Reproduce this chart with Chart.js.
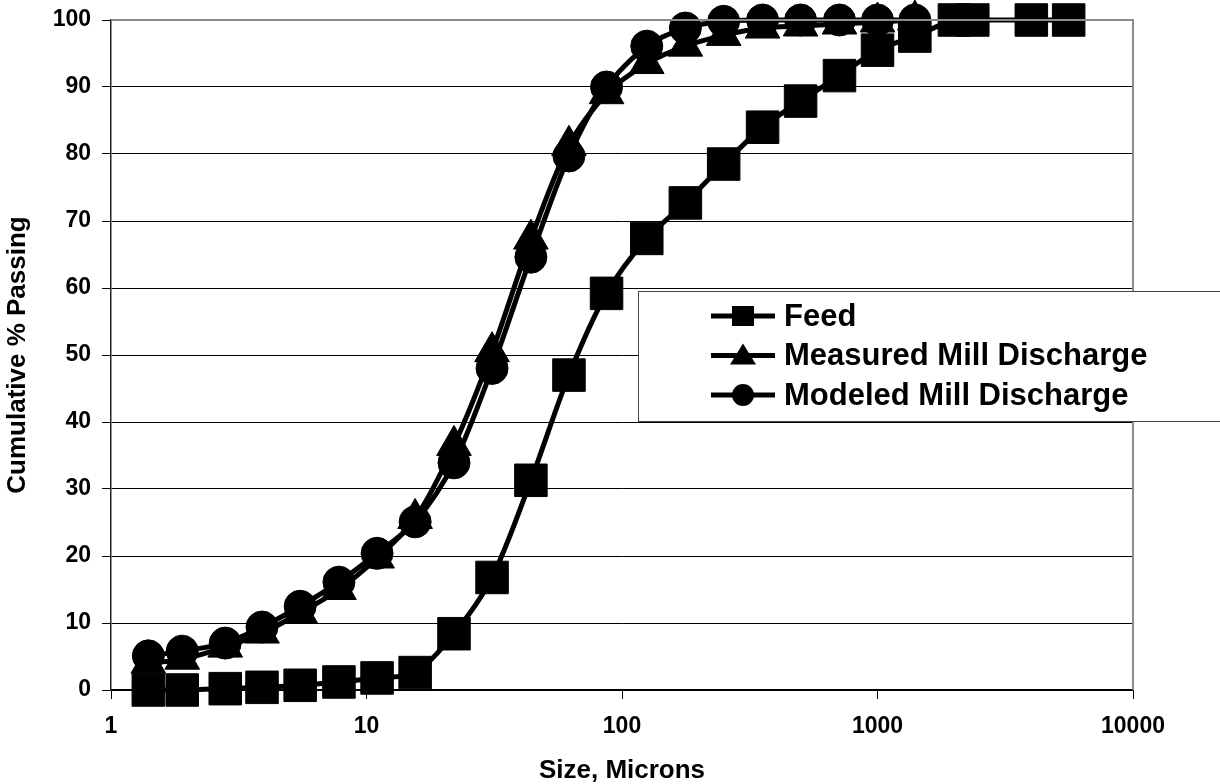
<!DOCTYPE html>
<html>
<head>
<meta charset="utf-8">
<title>Cumulative % Passing</title>
<script src="https://cdn.jsdelivr.net/npm/chart.js@4.4.1/dist/chart.umd.min.js"></script>
<style>
    html, body { margin: 0; padding: 0; background: #fff; }
    #wrap { width: 1220px; height: 784px; }
</style>
</head>
<body>
<div id="wrap"><canvas id="canvasPassing" width="1220" height="784"></canvas></div>
<script>
// sizes in microns (shared by both discharge series, feed goes further)
var sizes = [1.4, 1.9, 2.8, 3.9, 5.5, 7.8, 11, 15.5, 22, 31, 44, 62, 87, 125, 177, 250, 355, 500, 710, 1000, 1400];
var feedSizes = sizes.concat([2000, 2360, 4000, 5600]);

var feed = [0, 0, 0.2, 0.4, 0.7, 1.2, 1.8, 2.6, 8.4, 16.8, 31.3, 47, 59.2, 67.4, 72.7, 78.5, 84, 87.9, 91.7, 95.5, 97.6, 100, 100, 100, 100];
var measured = [4.0, 4.6, 6.4, 8.5, 11.5, 15.0, 19.7, 25.6, 36.5, 50.5, 67.3, 81.3, 89, 93.5, 96.1, 97.7, 98.8, 99.1, 99.4, 99.7, 100];
var modeled = [5.1, 5.8, 7.0, 9.4, 12.5, 16.1, 20.4, 25.1, 33.9, 48.0, 64.6, 79.7, 90.0, 96.1, 98.8, 99.8, 100, 100, 100, 100, 100];

var seriesNames = ['Feed', 'Measured Mill Discharge', 'Modeled Mill Discharge'];
var xTicks = [1, 10, 100, 1000, 10000];

var fontFamily = '"Liberation Sans", Arial, Helvetica, sans-serif';

function toPoints(xs, ys) {
    let pts = [];
    for (let i = 0; i < ys.length; i++) {
        pts = [...pts, { x: xs[i], y: ys[i] }];
    }
    return pts;
}

// grey top/right frame of the plot area
var plotFrame = {
    id: 'plotFrame',
    afterDatasetsDraw: function (chart) {
        var a = chart.chartArea;
        var ctx = chart.ctx;
        ctx.save();
        ctx.strokeStyle = '#8c8c8c';
        ctx.lineWidth = 2;
        ctx.beginPath();
        ctx.moveTo(a.left, a.top);
        ctx.lineTo(a.right, a.top);
        ctx.lineTo(a.right, a.bottom);
        ctx.stroke();
        ctx.restore();
    }
};

// legend box drawn over the plot, like the original
var legendBox = {
    id: 'legendBox',
    afterDraw: function (chart) {
        var ctx = chart.ctx;
        var bx = 638, by = 291, bw = 620, bh = 130;
        ctx.save();
        ctx.fillStyle = '#fff';
        ctx.fillRect(bx, by, bw, bh);
        ctx.strokeStyle = '#444';
        ctx.lineWidth = 1;
        ctx.strokeRect(bx + 0.5, by + 0.5, bw, bh);

        chart.data.datasets.forEach(function (ds, i) {
            var y = 316 + i * 39.5;
            var cx = 743;
            ctx.strokeStyle = '#000';
            ctx.fillStyle = '#000';
            ctx.lineWidth = 5;
            ctx.beginPath();
            ctx.moveTo(711, y);
            ctx.lineTo(775, y);
            ctx.stroke();

            ctx.beginPath();
            if (ds.pointStyle === 'rect') {
                ctx.rect(cx - 11, y - 10, 22, 20);
            } else if (ds.pointStyle === 'triangle') {
                ctx.moveTo(cx, y - 12);
                ctx.lineTo(cx + 13, y + 9);
                ctx.lineTo(cx - 13, y + 9);
                ctx.closePath();
            } else {
                ctx.arc(cx, y, 11, 0, Math.PI * 2);
            }
            ctx.fill();

            ctx.font = 'bold 31px ' + fontFamily;
            ctx.textAlign = 'left';
            ctx.textBaseline = 'middle';
            ctx.fillText(ds.label, 784, y + 1);
        });
        ctx.restore();
    }
};

// keep the plot area where the original has it
function noEdgePadding(scale) {
    scale.paddingTop = 0;
    scale.paddingBottom = 0;
    scale.paddingLeft = 0;
    scale.paddingRight = 0;
}

var ctx = document.getElementById('canvasPassing').getContext('2d');
var chartPassing = new Chart(ctx, {
    type: 'line',
    data: {
        datasets: [{
            label: seriesNames[0],
            data: toPoints(feedSizes, feed),
            pointStyle: 'rect',
            pointRadius: 23,
            order: 2
        }, {
            label: seriesNames[1],
            data: toPoints(sizes, measured),
            pointStyle: 'triangle',
            pointRadius: 20,
            order: 1
        }, {
            label: seriesNames[2],
            data: toPoints(sizes, modeled),
            pointStyle: 'circle',
            pointRadius: 16,
            order: 0
        }]
    },
    options: {
        responsive: false,
        animation: false,
        events: [],
        clip: false,
        layout: {
            autoPadding: false,
            padding: { top: 20, right: 87, bottom: 0, left: 0 }
        },
        elements: {
            line: {
                borderColor: '#000',
                borderWidth: 5,
                tension: 0.3,
                fill: false
            },
            point: {
                backgroundColor: '#000',
                borderColor: '#000',
                borderWidth: 1
            }
        },
        plugins: {
            legend: { display: false },
            tooltip: { enabled: false }
        },
        scales: {
            x: {
                type: 'logarithmic',
                min: 1,
                max: 10000,
                afterBuildTicks: function (scale) {
                    scale.ticks = xTicks.map(function (v) { return { value: v }; });
                },
                afterFit: function (scale) {
                    scale.height = 94;
                    noEdgePadding(scale);
                },
                grid: {
                    drawOnChartArea: false,
                    drawTicks: true,
                    tickLength: 9,
                    tickColor: '#000',
                    tickWidth: 1
                },
                border: { display: true, color: '#000', width: 1.5 },
                ticks: {
                    color: '#000',
                    padding: 14,
                    maxRotation: 0,
                    autoSkip: false,
                    font: { family: fontFamily, size: 23, weight: 'bold' },
                    callback: function (value) { return String(value); }
                },
                title: {
                    display: true,
                    text: 'Size, Microns',
                    color: '#000',
                    padding: { top: 0, bottom: 0 },
                    font: { family: fontFamily, size: 26, weight: 'bold', lineHeight: 1 }
                }
            },
            y: {
                min: 0,
                max: 100,
                afterFit: function (scale) {
                    scale.width = 111;
                    noEdgePadding(scale);
                },
                grid: {
                    color: function (c) { return c.tick && c.tick.value === 100 ? '#8c8c8c' : '#000'; },
                    lineWidth: 1,
                    drawTicks: true,
                    tickLength: 9,
                    tickColor: '#000'
                },
                border: { display: true, color: '#222', width: 1.5 },
                ticks: {
                    stepSize: 10,
                    color: '#000',
                    padding: 11,
                    font: { family: fontFamily, size: 23, weight: 'bold' }
                },
                title: {
                    display: true,
                    text: 'Cumulative % Passing',
                    color: '#000',
                    padding: { top: 5, bottom: 0 },
                    font: { family: fontFamily, size: 26, weight: 'bold', lineHeight: 1 }
                }
            }
        }
    },
    plugins: [plotFrame, legendBox]
});
</script>
</body>
</html>
